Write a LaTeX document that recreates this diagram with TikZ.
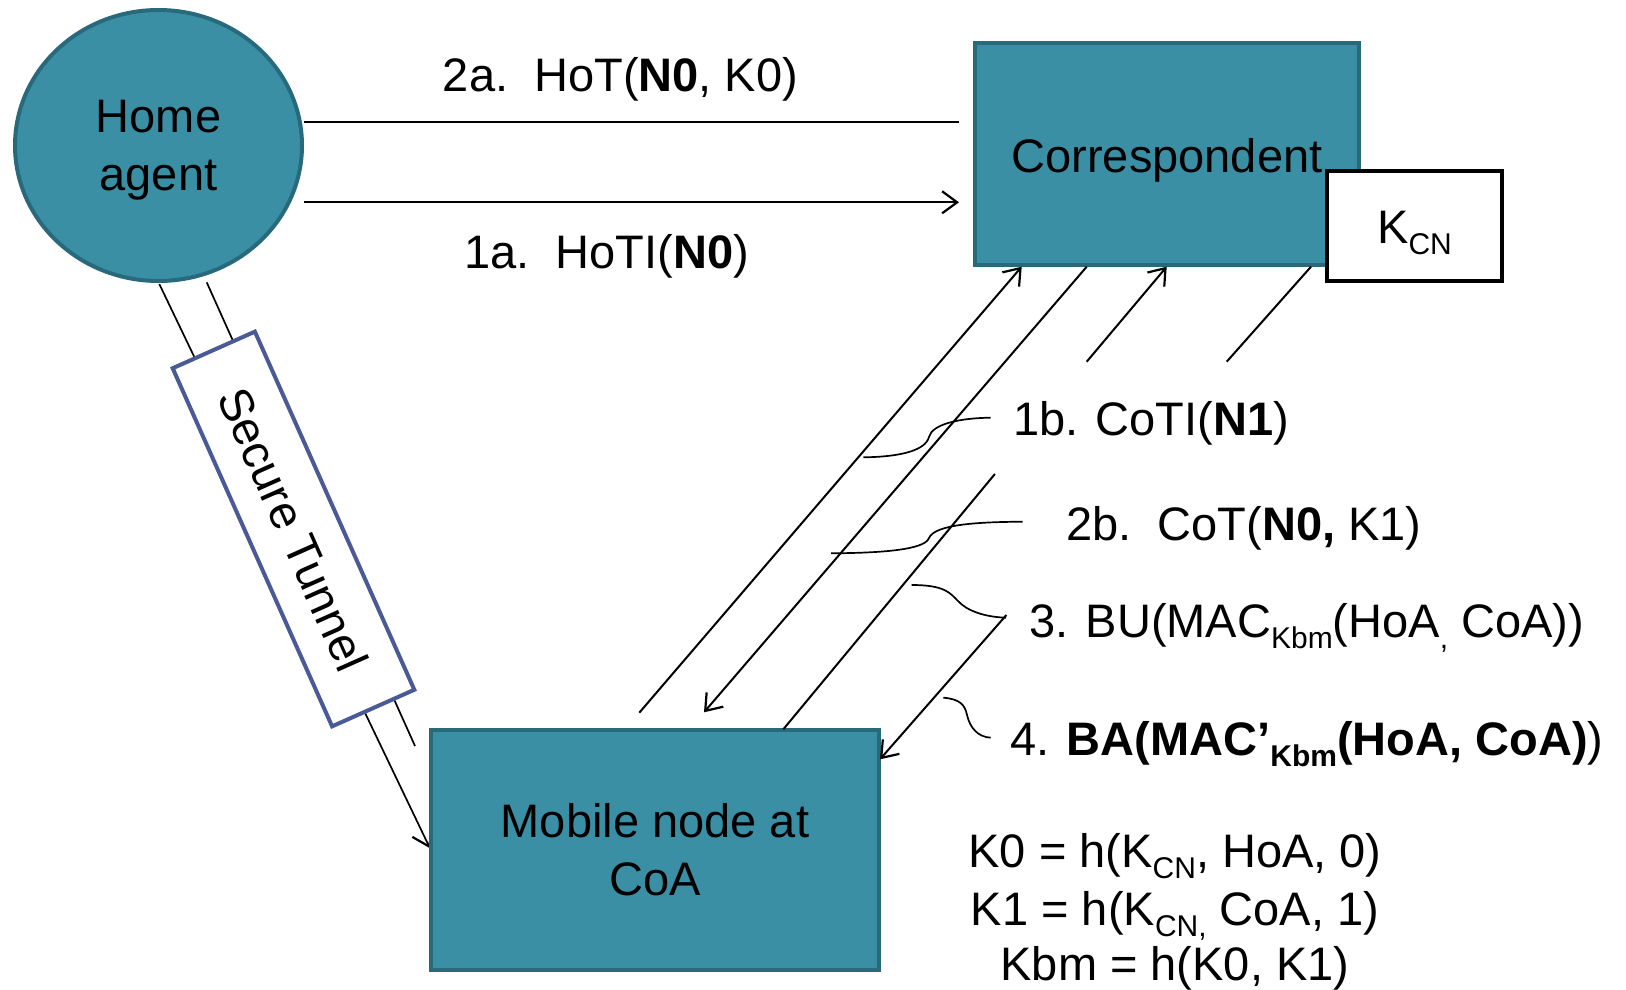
\documentclass[tikz,border=0pt]{standalone}
\usepackage{fontspec}
\setmainfont{Liberation Sans}
\usetikzlibrary{arrows.meta,shapes.geometric}
\definecolor{entityfill}{RGB}{58,143,165}
\definecolor{entityline}{RGB}{40,106,124}
\definecolor{tunnelline}{RGB}{74,90,150}
\newcommand{\lsub}[1]{\raisebox{-11pt}{\fontsize{30}{30}\selectfont #1}}
\newcommand{\bigtext}{\fontsize{47}{58}\selectfont}

\begin{document}
\begin{tikzpicture}[x=1pt,y=-1pt,
  every node/.style={font=\bigtext, inner sep=0pt},
  entity/.style={fill=entityfill, draw=entityline, line width=4pt, align=center, text depth=0pt},
  keybox/.style={fill=white, draw=black, line width=4pt, text depth=0pt},
  tunnelbox/.style={fill=white, draw=tunnelline, line width=4pt},
  msgtext/.style={anchor=base west},
  link/.style={line width=2pt},
  thinlink/.style={line width=1.7pt},
  arr/.style={link, -{Straight Barb[length=15pt,width=22pt,line width=2.2pt]}},
  thinarr/.style={thinlink, -{Straight Barb[length=16pt,width=22pt,line width=2.2pt]}},
  callout/.style={line width=1.7pt}
]
\useasboundingbox (0,0) rectangle (1626,990);

% tunnel lines, drawn first so the tunnel label covers them
\coordinate (tunA0) at (159.3,284);
\coordinate (tunB0) at (206.7,282.3);
\coordinate (tunB1) at (415,746);
\coordinate (tunA1) at (430,848.3);
\draw[thinarr] (tunA0) -- (tunA1);
\draw[thinlink] (tunB0) -- (tunB1);

% entities
\node[entity, ellipse, minimum width=287pt, minimum height=271pt, text depth=-6pt] (ha) at (158.5,145.5) {Home\\agent};
\node[entity, minimum width=384pt, minimum height=222pt, text height=38pt] (cn) at (1167,153.8) {Correspondent};
\node[keybox, minimum width=175pt, minimum height=110pt, text height=34pt] (kcn) at (1414.5,226) {K\lsub{CN}};
\node[entity, minimum width=448pt, minimum height=239.5pt] (mn) at (655,849.75) {Mobile node at\\CoA};
\node[tunnelbox, rotate=-66, minimum width=392pt, minimum height=90pt] (tun) at (293.5,529) {Secure Tunnel};

% home agent <-> correspondent
\coordinate (hotEnd) at (959,121.7);
\coordinate (hotiEnd) at (959,202.3);
\draw[link] (ha.east |- hotEnd) -- (hotEnd);
\draw[arr] (ha.east |- hotiEnd) -- (hotiEnd);
\node[msgtext] (l2a) at (442.7,91.7) {2a.\ \ HoT(\textbf{N0}, K0)};
\node[msgtext] (l1a) at (464,268.3) {1a.\ \ HoTI(\textbf{N0})};

% mobile node <-> correspondent
\coordinate (a0) at (639.3,712.7);
\coordinate (a1) at (1021.7,266.7);
\coordinate (b0) at (1086.7,266.7);
\coordinate (b1) at (704,712.3);
\coordinate (c0) at (994.9,474);
\coordinate (c1) at (1086.7,361.7);
\coordinate (c2) at (1166.7,266.7);
\coordinate (cm) at (783.3,729.3);
\coordinate (d0) at (1311,266.7);
\coordinate (d1) at (1226.7,361.7);
\coordinate (d2) at (1006.4,615);
\coordinate (d3) at (880,759.3);
\draw[arr] (a0) -- (a1);
\draw[arr] (b0) -- (b1);
\draw[arr] (c1) -- (c2);
\draw[link] (cm) -- (c0);
\draw[link] (d0) -- (d1);
\draw[arr] (d2) -- (d3);

% message labels
\node[msgtext] (l1b) at (1013,435) {1b. CoTI(\textbf{N1})};
\node[msgtext] (l2b) at (1066,540) {2b.\ \ CoT(\textbf{N0,} K1)};
\node[msgtext] (l3) at (1029,637) {3. BU(MAC\lsub{Kbm}(HoA\lsub{,} CoA))};
\node[msgtext] (l4) at (1010,755) {4. \textbf{BA(MAC’\lsub{Kbm}(HoA, CoA)})};

% callouts from labels to their messages
\coordinate (k1b) at (990.7,417.7);
\coordinate (k2b) at (1022.7,521.7);
\coordinate (k3) at (1006,617.7);
\coordinate (k4) at (990.7,737.7);
\coordinate (e1b) at (863.3,457.3);
\coordinate (e2b) at (831,553.3);
\coordinate (e3) at (911.7,585);
\coordinate (e4) at (943.3,697.7);
\draw[callout] (k1b) .. controls (960,418) and (932,424) .. (929,437)
                     .. controls (925,452) and (895,457) .. (e1b);
\draw[callout] (k2b) .. controls (980,522) and (935,524) .. (929,538)
                     .. controls (925,550) and (880,553) .. (e2b);
\draw[callout] (k3) .. controls (985,617) and (967,611) .. (958,601)
                    .. controls (950,593) and (945,585) .. (e3);
\draw[callout] (k4) .. controls (978,737) and (970,728) .. (967,715)
                    .. controls (965,705) and (960,699) .. (e4);

% key derivation
\node[anchor=base] (f1) at (1175,867.3) {K0 = h(K\lsub{CN}, HoA, 0)};
\node[anchor=base] (f2) at (1175,925) {K1 = h(K\lsub{CN,} CoA, 1)};
\node[anchor=base] (f3) at (1175,980) {Kbm = h(K0, K1)};
\end{tikzpicture}
\end{document}
